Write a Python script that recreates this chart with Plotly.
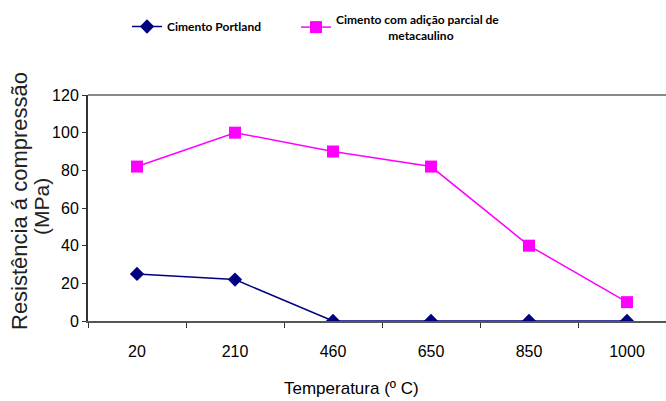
import plotly.graph_objects as go

categories = ["20", "210", "460", "650", "850", "1000"]
portland = [25, 22, 0, 0, 0, 0]
metacaulino = [82, 100, 90, 82, 40, 10]
y_ticks = [0, 20, 40, 60, 80, 100, 120]

W, H = 666, 401
NARROW = "Liberation Sans Narrow, Arial Narrow, Liberation Sans, Arial, sans-serif"
SANS = "Liberation Sans, Arial, sans-serif"
LEG = "Lato, Carlito, Calibri, sans-serif"
NB = "\u00a0"

fig = go.Figure()
fig.add_trace(go.Scatter(
    x=categories, y=metacaulino, mode="lines+markers",
    name="<b>Cimento com adição parcial de</b><br>" + NB * 17 + "<b>metacaulino</b>",
    line=dict(color="#FF00FF", width=1.5),
    marker=dict(symbol="square", size=12, color="#FF00FF"),
    legend="legend2",
))
fig.add_trace(go.Scatter(
    x=categories, y=portland, mode="lines+markers",
    name="<b>Cimento Portland</b>",
    line=dict(color="#000080", width=1.5),
    marker=dict(symbol="diamond", size=11, color="#000080"),
    legend="legend",
))

fig.update_layout(
    width=W, height=H,
    margin=dict(l=88, r=0, t=95, b=80, autoexpand=False),
    paper_bgcolor="white", plot_bgcolor="white",
    showlegend=True,
    legend=dict(
        xref="container", yref="container", x=127 / W, y=1 - 12 / H,
        xanchor="left", yanchor="top",
        font=dict(family=LEG, size=12, color="black"),
        bgcolor="rgba(0,0,0,0)", itemwidth=30,
    ),
    legend2=dict(
        xref="container", yref="container", x=296 / W, y=1 - 5 / H,
        xanchor="left", yanchor="top",
        font=dict(family=LEG, size=12, color="black"),
        bgcolor="rgba(0,0,0,0)", itemwidth=30,
    ),
    xaxis=dict(
        type="category", categoryorder="array", categoryarray=categories,
        range=[-0.5, 5.398], tickson="boundaries",
        ticks="outside", ticklen=5, tickcolor="#333333", tickwidth=1,
        showline=True, linecolor="#555555", linewidth=2,
        showgrid=False, zeroline=False, tickangle=0,
        tickfont=dict(family=NARROW, size=16, color="black"),
        ticklabelstandoff=15,
    ),
    yaxis=dict(
        range=[0, 120], tickvals=y_ticks,
        ticks="outside", ticklen=4, tickcolor="#333333", tickwidth=1,
        showline=True, linecolor="#333333", linewidth=2,
        showgrid=False, zeroline=False,
        tickfont=dict(family=NARROW, size=16, color="black"),
        ticklabelstandoff=0,
    ),
)

# top frame line
fig.add_shape(type="line", xref="paper", yref="paper", x0=0, x1=1, y0=1, y1=1,
              line=dict(color="#888888", width=2))

pa_l, pa_w, pa_t, pa_h = 88, 578, 95, 226
def px_x(px):
    return (px - pa_l) / pa_w
def px_y(py):
    return (pa_t + pa_h - py) / pa_h

fig.add_annotation(text="Resistência á compressão", xref="paper", yref="paper",
                   x=px_x(19), y=px_y(201), xanchor="center", yanchor="middle",
                   showarrow=False, textangle=-90,
                   font=dict(family=SANS, size=22, color="#222222"))
fig.add_annotation(text="(MPa)", xref="paper", yref="paper",
                   x=px_x(41), y=px_y(207), xanchor="center", yanchor="middle",
                   showarrow=False, textangle=-90,
                   font=dict(family=SANS, size=21, color="#222222"))
fig.add_annotation(text="Temperatura (º C)", xref="paper", yref="paper",
                   x=px_x(351), y=px_y(388), xanchor="center", yanchor="middle",
                   showarrow=False,
                   font=dict(family=NARROW, size=17, color="black"))

fig.write_html("out.html", config={"displayModeBar": False},
               post_script="document.body.style.margin='0';document.body.style.padding='0';")
